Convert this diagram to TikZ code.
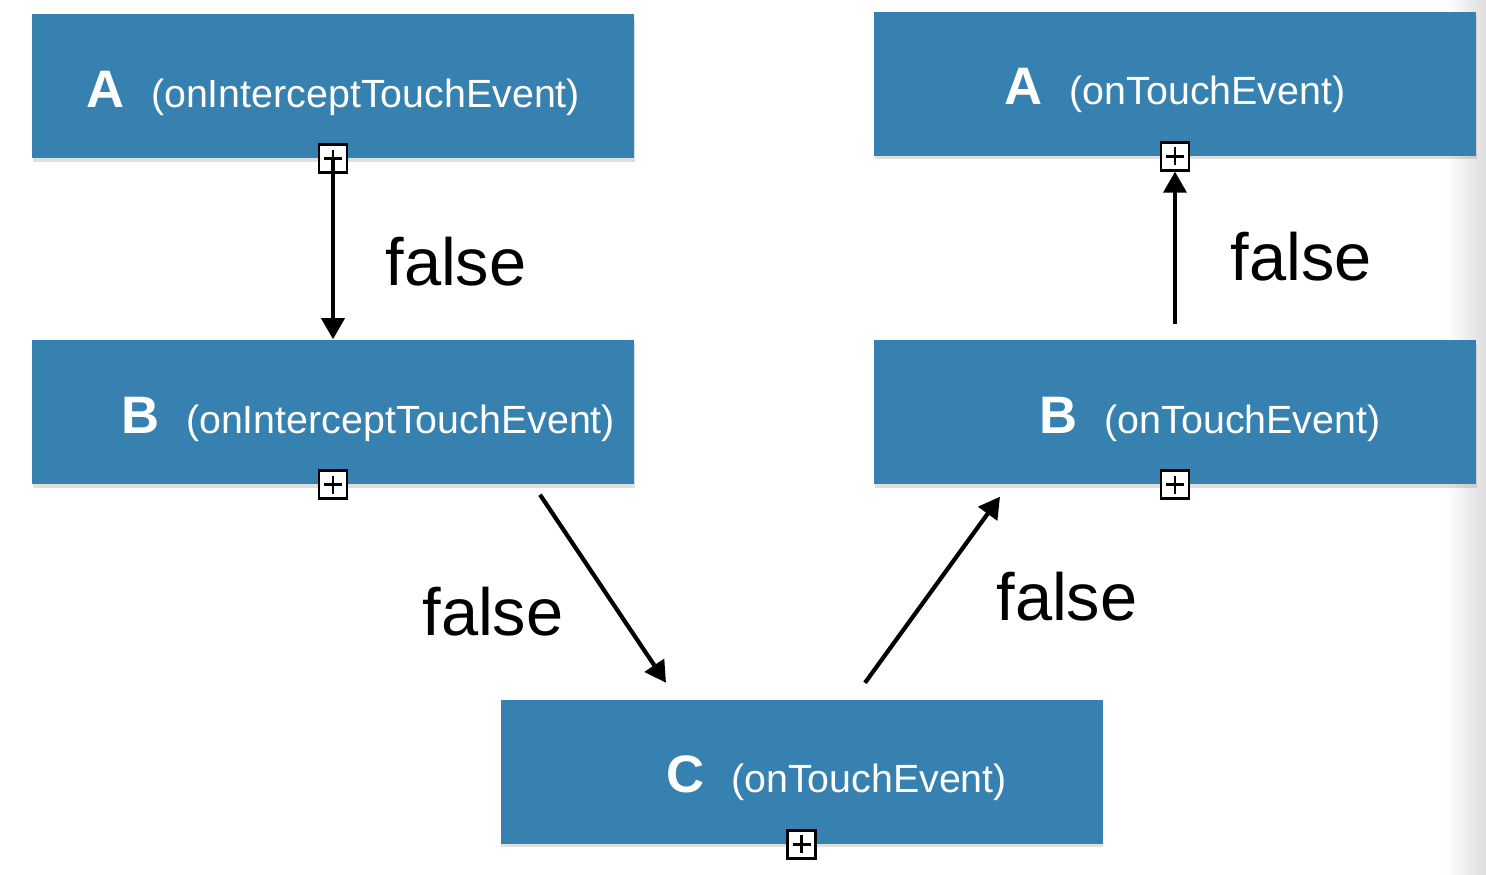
\documentclass[tikz,border=0pt]{standalone}
\usepackage{fontspec}
\setmainfont{Liberation Sans}
\usetikzlibrary{arrows.meta, positioning, shadows}
\definecolor{boxblue}{RGB}{55,129,177}

\begin{document}
\begin{tikzpicture}[
  call/.style={rectangle,fill=boxblue,draw=none,text=white,inner sep=0pt, minimum width=6.02cm,minimum height=1.44cm,text height=0.6cm,text depth=0.18cm,align=center,font=\fontsize{11.2}{14}\selectfont, drop shadow={shadow xshift=0.2pt,shadow yshift=-1pt,opacity=0.25}},
  plusbox/.style={rectangle,draw=black,fill=white,line width=0.8pt,minimum size=0.28cm,inner sep=0pt, path picture={\draw[line width=0.8pt] (path picture bounding box.center) ++(-0.09,0) -- ++(0.18,0) (path picture bounding box.center) ++(0,-0.09) -- ++(0,0.18);}},
  flow/.style={-{Triangle[length=6pt,width=6.5pt]},line width=1.2pt},
  lbl/.style={font=\fontsize{19}{22}\selectfont,inner sep=0pt}
]
  \useasboundingbox (0,0) rectangle (14.86,-8.74);
  \shade[left color=white,right color=black!13] (14.45,0) rectangle (14.86,-8.74);

  \node[call](al) at (3.33,-0.86)   {{\fontsize{15}{18}\selectfont\bfseries A}\hspace{0.27cm}(onInterceptTouchEvent)};
  \node[call](bl) at (3.33,-4.12)   {\hspace{0.7cm}{\fontsize{15}{18}\selectfont\bfseries B}\hspace{0.27cm}(onInterceptTouchEvent)};
  \node[call](ar) at (11.75,-0.835) {{\fontsize{15}{18}\selectfont\bfseries A}\hspace{0.27cm}(onTouchEvent)};
  \node[call](br) at (11.75,-4.12)  {\hspace{0.7cm}{\fontsize{15}{18}\selectfont\bfseries B}\hspace{0.27cm}(onTouchEvent)};
  \node[call](c)  at (8.015,-7.715) {\hspace{0.7cm}{\fontsize{15}{18}\selectfont\bfseries C}\hspace{0.27cm}(onTouchEvent)};

  \node[plusbox](pal) at (al.south) {};
  \node[plusbox](pbl) at (bl.south) {};
  \node[plusbox](par) at (ar.south) {};
  \node[plusbox](pbr) at (br.south) {};
  \node[plusbox](pc)  at (c.south)  {};

  \draw[flow](pal.center) -- node[lbl, xshift=1.23cm, yshift=-0.13cm]{false} (bl.north);
  \draw[flow]([xshift=2.07cm,yshift=-0.1cm]bl.south) -- node[lbl, xshift=-1.1cm, yshift=-0.23cm]{false} ([xshift=-1.355cm,yshift=0.16cm]c.north);
  \draw[flow]([xshift=0.635cm,yshift=0.16cm]c.north) -- node[lbl, xshift=1.345cm, yshift=-0.07cm]{false} ([xshift=-1.75cm,yshift=-0.12cm]br.south);
  \draw[flow, shorten <=0.15cm](br.north) -- node[lbl, xshift=1.26cm, yshift=-0.01cm]{false} (par.south);
\end{tikzpicture}
\end{document}
